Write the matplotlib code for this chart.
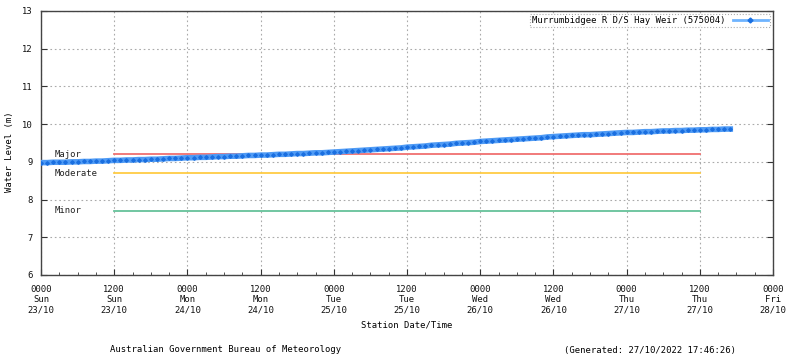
import matplotlib
matplotlib.use("Agg")
import matplotlib.pyplot as plt
import numpy as np

# Hourly water levels from 23/10 00:00 (hour 0) to 27/10 17:00
levels = [
    8.98, 8.98, 8.99, 8.99, 8.99, 9.00, 9.00, 9.01, 9.01, 9.02, 9.02, 9.03,
    9.04, 9.04, 9.05, 9.05, 9.06, 9.06, 9.07, 9.07, 9.08, 9.09, 9.09, 9.10,
    9.11, 9.11, 9.12, 9.12, 9.13, 9.14, 9.14, 9.15, 9.15, 9.16, 9.17, 9.17,
    9.18, 9.18, 9.19, 9.20, 9.20, 9.21, 9.22, 9.22, 9.23, 9.24, 9.24, 9.25,
    9.26, 9.27, 9.28, 9.29, 9.30, 9.31, 9.32, 9.33, 9.34, 9.35, 9.36, 9.37,
    9.39, 9.40, 9.41, 9.42, 9.44, 9.45, 9.46, 9.47, 9.49, 9.50, 9.51, 9.52,
    9.54, 9.55, 9.56, 9.57, 9.58, 9.59, 9.60, 9.61, 9.62, 9.63, 9.64, 9.66,
    9.67, 9.68, 9.69, 9.70, 9.71, 9.72, 9.72, 9.73, 9.74, 9.75, 9.76, 9.77,
    9.78, 9.78, 9.79, 9.80, 9.80, 9.81, 9.82, 9.82, 9.83, 9.83, 9.84, 9.84,
    9.85, 9.85, 9.86, 9.86, 9.87, 9.87,
]
hours = list(range(len(levels)))

thresholds = {"Major": 9.2, "Moderate": 8.7, "Minor": 7.7}
threshold_colors = {"Major": "#f07070", "Moderate": "#ffcc44", "Minor": "#66c29a"}
threshold_start, threshold_end = 12, 108

tick_hours = list(range(0, 121, 12))
tick_labels = [
    "0000\nSun\n23/10", "1200\nSun\n23/10", "0000\nMon\n24/10", "1200\nMon\n24/10",
    "0000\nTue\n25/10", "1200\nTue\n25/10", "0000\nWed\n26/10", "1200\nWed\n26/10",
    "0000\nThu\n27/10", "1200\nThu\n27/10", "0000\nFri\n28/10",
]
series_name = "Murrumbidgee R D/S Hay Weir (575004)"

FONT = "DejaVu Sans Mono"
FS = 6.4
plt.rcParams["font.family"] = FONT
plt.rcParams["font.size"] = FS

fig = plt.figure(figsize=(8, 3.58), dpi=100)
ax = fig.add_axes([41 / 800, 1 - 275 / 358, 732 / 800, 264 / 358])

ax.set_xlim(0, 120)
ax.set_ylim(6, 13)

for name, val in thresholds.items():
    ax.plot([threshold_start, threshold_end], [val, val], color=threshold_colors[name], lw=1.3, zorder=2)
    ax.text(2.2, val, name, fontsize=FS, va="center", ha="left", color="#222222")

ax.plot(hours, levels, color="#4f9bf5", lw=4.0, marker="D", ms=1.8, mfc="#1a6fe0", mec="#1a6fe0",
        label=series_name, zorder=3)

ax.set_xticks(tick_hours)
ax.set_xticklabels(tick_labels, linespacing=1.2)
ax.set_xticks(np.arange(0, 121, 3), minor=True)
ax.set_yticks(range(6, 14))
ax.tick_params(axis="both", direction="in", length=4, width=0.8, colors="#333333", labelcolor="#111111",
               labelsize=FS)
ax.tick_params(axis="x", which="minor", direction="in", length=2, width=0.6, colors="#333333")
ax.tick_params(axis="y", right=True, left=True)
ax.tick_params(axis="x", pad=7)
ax.tick_params(axis="y", pad=6)

ax.grid(True, which="major", color="#aaaaaa", linestyle=(0, (1.5, 2.5)), lw=0.8)
for s in ax.spines.values():
    s.set_color("#444444")
    s.set_linewidth(1.0)

ax.set_xlabel("Station Date/Time", fontsize=FS, labelpad=4)
fig.text(10 / 800, 1 - 152 / 358, "Water Level (m)", rotation=90, ha="center", va="center", fontsize=FS)

leg = ax.legend(loc="upper right", markerfirst=False, frameon=True, fancybox=False, fontsize=FS,
                handlelength=4.0, handletextpad=0.8, borderpad=0.25, borderaxespad=0.3)
leg.get_frame().set_edgecolor("#999999")
leg.get_frame().set_linestyle(":")
leg.get_frame().set_linewidth(0.8)
for h in leg.legend_handles:
    h.set_linewidth(2.0)
    h.set_color("#6fb4ff")
    h.set_markersize(2.5)
    h.set_markerfacecolor("#1a6fe0")
    h.set_markeredgecolor("#1a6fe0")

fig.text(226 / 800, 1 - 350 / 358, "Australian Government Bureau of Meteorology", ha="center", va="center",
         fontsize=FS)
fig.text(650 / 800, 1 - 350 / 358, "(Generated: 27/10/2022 17:46:26)", ha="center", va="center",
         fontsize=FS)

fig.savefig("out.png", dpi=100)
